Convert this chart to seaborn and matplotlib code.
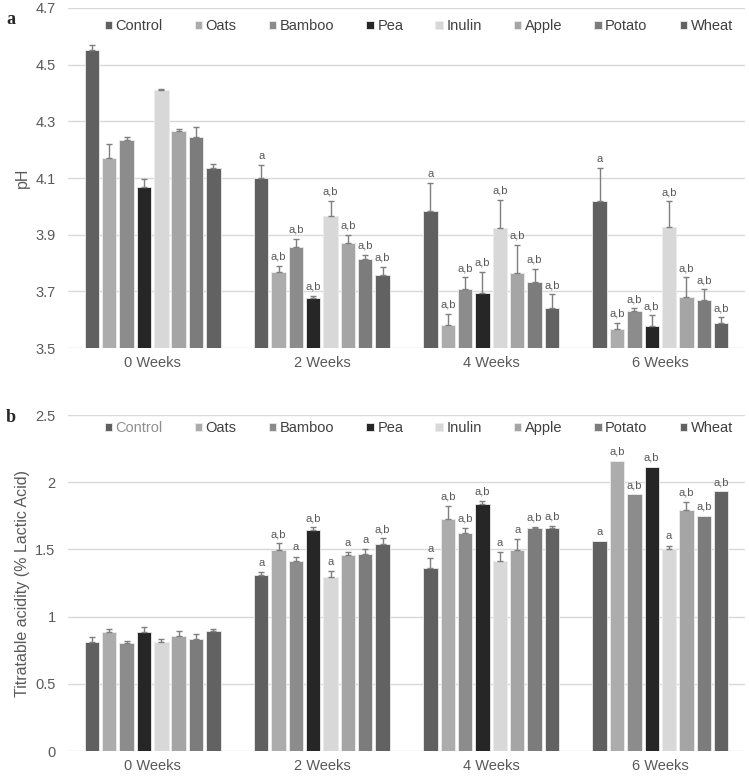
import matplotlib
matplotlib.use("Agg")
import matplotlib.pyplot as plt
import numpy as np
import pandas as pd
import seaborn as sns

weeks = ["0 Weeks", "2 Weeks", "4 Weeks", "6 Weeks"]
treatments = ["Control", "Oats", "Bamboo", "Pea", "Inulin", "Apple", "Potato", "Wheat"]
colors = ["#606060", "#acacac", "#8c8c8c", "#262626", "#d8d8d8", "#a5a5a5", "#7c7c7c", "#626262"]

# pH (rows = weeks, cols = treatments)
ph_mean = [
    [4.55, 4.17, 4.235, 4.07, 4.41, 4.265, 4.245, 4.135],
    [4.10, 3.77, 3.855, 3.675, 3.965, 3.87, 3.815, 3.757],
    [3.983, 3.583, 3.707, 3.693, 3.923, 3.764, 3.732, 3.64],
    [4.018, 3.566, 3.629, 3.578, 3.926, 3.68, 3.668, 3.59],
]
ph_err = [
    [0.02, 0.05, 0.01, 0.025, 0.003, 0.007, 0.035, 0.015],
    [0.045, 0.02, 0.03, 0.01, 0.055, 0.03, 0.015, 0.03],
    [0.10, 0.037, 0.043, 0.077, 0.10, 0.10, 0.048, 0.05],
    [0.117, 0.024, 0.011, 0.037, 0.092, 0.07, 0.039, 0.018],
]
ph_letters = [
    [""] * 8,
    ["a"] + ["a,b"] * 7,
    ["a"] + ["a,b"] * 7,
    ["a"] + ["a,b"] * 7,
]

# Titratable acidity
ta_mean = [
    [0.813, 0.883, 0.806, 0.883, 0.813, 0.856, 0.831, 0.890],
    [1.307, 1.496, 1.414, 1.642, 1.297, 1.458, 1.468, 1.538],
    [1.359, 1.726, 1.624, 1.835, 1.411, 1.496, 1.662, 1.659],
    [1.560, 2.160, 1.910, 2.116, 1.503, 1.793, 1.749, 1.932],
]
ta_err = [
    [0.038, 0.022, 0.015, 0.037, 0.018, 0.034, 0.04, 0.015],
    [0.022, 0.049, 0.032, 0.022, 0.042, 0.025, 0.035, 0.044],
    [0.079, 0.099, 0.038, 0.025, 0.072, 0.079, 0.005, 0.015],
    [0.0, 0.0, 0.0, 0.0, 0.025, 0.062, 0.0, 0.0],
]
ta_letters = [
    [""] * 8,
    ["a", "a,b", "a", "a,b", "a", "a", "a", "a,b"],
    ["a", "a,b", "a,b", "a,b", "a", "a", "a,b", "a,b"],
    ["a", "a,b", "a,b", "a,b", "a", "a,b", "a,b", "a,b"],
]

sns.set_theme(style="white")
plt.rcParams["font.family"] = ["Liberation Sans", "DejaVu Sans"]

TXT = "#595959"


def long_frame(mean):
    rows = []
    for wi, w in enumerate(weeks):
        for ti, t in enumerate(treatments):
            rows.append({"week": w, "treatment": t, "value": mean[wi][ti]})
    return pd.DataFrame(rows)


def draw_panel(ax, mean, err, letters, ylim, yticks, yticklabels, ylabel,
               control_color, legend_y):
    df = long_frame(mean)
    sns.barplot(data=df, x="week", y="value", hue="treatment", order=weeks,
                hue_order=treatments, palette=colors, errorbar=None,
                width=0.82, gap=0.17, edgecolor="#ececec", linewidth=0.6,
                saturation=1, ax=ax)
    bar_containers = list(ax.containers)
    for ti, cont in enumerate(bar_containers):
        for wi, bar in enumerate(cont):
            x = bar.get_x() + bar.get_width() / 2
            y = bar.get_height()
            e = err[wi][ti]
            if e > 0:
                ax.errorbar(x, y, yerr=[[0], [e]], fmt="none", ecolor="#7f7f7f",
                            elinewidth=1, capsize=2.5, capthick=1, zorder=3)
            if letters[wi][ti]:
                ax.annotate(letters[wi][ti], (x, y + e), xytext=(0, 3),
                            textcoords="offset points", ha="center", va="bottom",
                            fontsize=8, color=TXT)

    ax.set_xlim(-0.5, len(weeks) - 0.5)
    ax.set_ylim(*ylim)
    ax.set_yticks(yticks)
    ax.set_yticklabels(yticklabels)
    ax.yaxis.grid(True, color="#d9d9d9", linewidth=1)
    ax.set_axisbelow(True)
    for s in ax.spines.values():
        s.set_visible(False)
    ax.tick_params(axis="both", length=0, labelsize=10.5, labelcolor=TXT)
    ax.tick_params(axis="y", pad=9)
    ax.tick_params(axis="x", pad=6)
    ax.set_xlabel("")
    ax.set_ylabel(ylabel, fontsize=11.5, color=TXT, labelpad=4)

    handles, labels = ax.get_legend_handles_labels()
    leg = ax.legend(handles, labels, ncol=8, loc="upper center",
                    bbox_to_anchor=(0.518, legend_y), frameon=False, fontsize=10.5,
                    handlelength=0.5, handleheight=0.5, handletextpad=0.25,
                    columnspacing=2.2, borderaxespad=0.0)
    for i, t in enumerate(leg.get_texts()):
        t.set_color(control_color if i == 0 else "#404040")


fig = plt.figure(figsize=(7.49, 7.76), dpi=100)
ax_a = fig.add_axes([0.0908, 0.5515, 0.9039, 0.4382])
ax_b = fig.add_axes([0.0908, 0.0322, 0.9039, 0.4330])

draw_panel(ax_a, ph_mean, ph_err, ph_letters, (3.5, 4.7),
           [3.5, 3.7, 3.9, 4.1, 4.3, 4.5, 4.7],
           ["3.5", "3.7", "3.9", "4.1", "4.3", "4.5", "4.7"], "pH", "#404040", 0.985)
draw_panel(ax_b, ta_mean, ta_err, ta_letters, (0, 2.5),
           [0, 0.5, 1, 1.5, 2, 2.5],
           ["0", "0.5", "1", "1.5", "2", "2.5"],
           "Titratable acidity (% Lactic Acid)", "#8f8f8f", 1.0)

fig.text(0.008, 0.975, "a", fontsize=13, fontweight="bold",
         family=["Liberation Serif", "DejaVu Serif"], va="center")
fig.text(0.008, 0.462, "b", fontsize=13, fontweight="bold",
         family=["Liberation Serif", "DejaVu Serif"], va="center")

fig.savefig("out.png", dpi=100)
